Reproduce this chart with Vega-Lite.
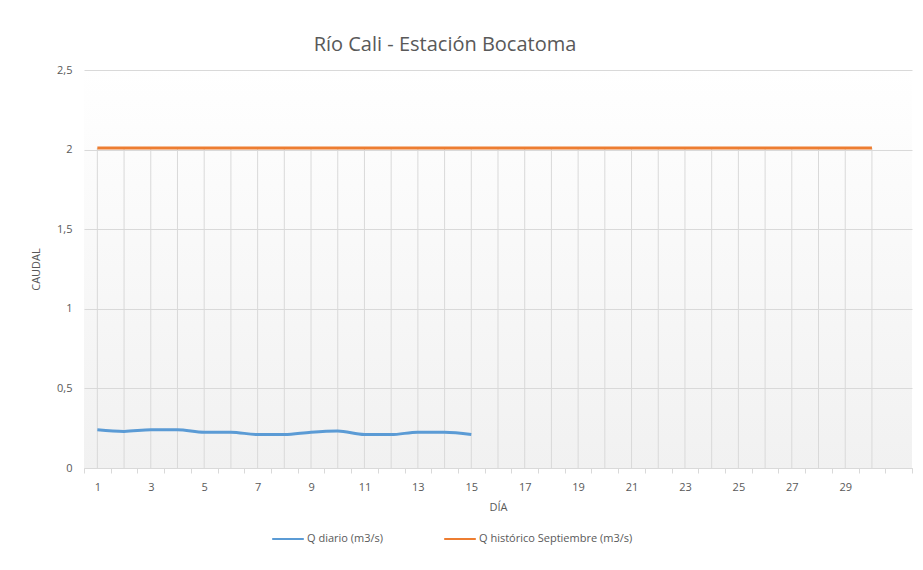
{
  "$schema": "https://vega.github.io/schema/vega-lite/v6.json",
  "width": 828,
  "height": 398,
  "autosize": {"type": "none"},
  "padding": {"left": 84, "top": 70, "right": 11, "bottom": 102},
  "background": "white",
  "title": {"text": "Río Cali - Estación Bocatoma", "fontSize": 20, "font": "Open Sans", "fontWeight": "normal", "color": "#595959", "offset": 9, "dx": -53},
  "config": {
    "font": "Open Sans",
    "view": {"stroke": null, "fill": {"gradient": "linear", "x1": 0, "y1": 0, "x2": 0, "y2": 1, "stops": [{"offset": 0, "color": "#ffffff"}, {"offset": 1, "color": "#f1f1f1"}]}}
  },
  "datasets": {
    "q": [
      {"dia": 1, "serie": "Q diario (m3/s)", "caudal": 0.24},
      {"dia": 2, "serie": "Q diario (m3/s)", "caudal": 0.23},
      {"dia": 3, "serie": "Q diario (m3/s)", "caudal": 0.24},
      {"dia": 4, "serie": "Q diario (m3/s)", "caudal": 0.24},
      {"dia": 5, "serie": "Q diario (m3/s)", "caudal": 0.225},
      {"dia": 6, "serie": "Q diario (m3/s)", "caudal": 0.225},
      {"dia": 7, "serie": "Q diario (m3/s)", "caudal": 0.21},
      {"dia": 8, "serie": "Q diario (m3/s)", "caudal": 0.21},
      {"dia": 9, "serie": "Q diario (m3/s)", "caudal": 0.225},
      {"dia": 10, "serie": "Q diario (m3/s)", "caudal": 0.232},
      {"dia": 11, "serie": "Q diario (m3/s)", "caudal": 0.21},
      {"dia": 12, "serie": "Q diario (m3/s)", "caudal": 0.21},
      {"dia": 13, "serie": "Q diario (m3/s)", "caudal": 0.225},
      {"dia": 14, "serie": "Q diario (m3/s)", "caudal": 0.225},
      {"dia": 15, "serie": "Q diario (m3/s)", "caudal": 0.21},
      {"dia": 1, "serie": "Q histórico Septiembre (m3/s)", "caudal": 2.01},
      {"dia": 2, "serie": "Q histórico Septiembre (m3/s)", "caudal": 2.01},
      {"dia": 3, "serie": "Q histórico Septiembre (m3/s)", "caudal": 2.01},
      {"dia": 4, "serie": "Q histórico Septiembre (m3/s)", "caudal": 2.01},
      {"dia": 5, "serie": "Q histórico Septiembre (m3/s)", "caudal": 2.01},
      {"dia": 6, "serie": "Q histórico Septiembre (m3/s)", "caudal": 2.01},
      {"dia": 7, "serie": "Q histórico Septiembre (m3/s)", "caudal": 2.01},
      {"dia": 8, "serie": "Q histórico Septiembre (m3/s)", "caudal": 2.01},
      {"dia": 9, "serie": "Q histórico Septiembre (m3/s)", "caudal": 2.01},
      {"dia": 10, "serie": "Q histórico Septiembre (m3/s)", "caudal": 2.01},
      {"dia": 11, "serie": "Q histórico Septiembre (m3/s)", "caudal": 2.01},
      {"dia": 12, "serie": "Q histórico Septiembre (m3/s)", "caudal": 2.01},
      {"dia": 13, "serie": "Q histórico Septiembre (m3/s)", "caudal": 2.01},
      {"dia": 14, "serie": "Q histórico Septiembre (m3/s)", "caudal": 2.01},
      {"dia": 15, "serie": "Q histórico Septiembre (m3/s)", "caudal": 2.01},
      {"dia": 16, "serie": "Q histórico Septiembre (m3/s)", "caudal": 2.01},
      {"dia": 17, "serie": "Q histórico Septiembre (m3/s)", "caudal": 2.01},
      {"dia": 18, "serie": "Q histórico Septiembre (m3/s)", "caudal": 2.01},
      {"dia": 19, "serie": "Q histórico Septiembre (m3/s)", "caudal": 2.01},
      {"dia": 20, "serie": "Q histórico Septiembre (m3/s)", "caudal": 2.01},
      {"dia": 21, "serie": "Q histórico Septiembre (m3/s)", "caudal": 2.01},
      {"dia": 22, "serie": "Q histórico Septiembre (m3/s)", "caudal": 2.01},
      {"dia": 23, "serie": "Q histórico Septiembre (m3/s)", "caudal": 2.01},
      {"dia": 24, "serie": "Q histórico Septiembre (m3/s)", "caudal": 2.01},
      {"dia": 25, "serie": "Q histórico Septiembre (m3/s)", "caudal": 2.01},
      {"dia": 26, "serie": "Q histórico Septiembre (m3/s)", "caudal": 2.01},
      {"dia": 27, "serie": "Q histórico Septiembre (m3/s)", "caudal": 2.01},
      {"dia": 28, "serie": "Q histórico Septiembre (m3/s)", "caudal": 2.01},
      {"dia": 29, "serie": "Q histórico Septiembre (m3/s)", "caudal": 2.01},
      {"dia": 30, "serie": "Q histórico Septiembre (m3/s)", "caudal": 2.01}
    ]
  },
  "data": {"name": "q"},
  "layer": [
    {
      "transform": [{"filter": "datum.serie == 'Q histórico Septiembre (m3/s)'"}],
      "mark": {"type": "rule", "color": "#d9d9d9", "strokeWidth": 1},
      "encoding": {
        "x": {
          "field": "dia",
          "type": "ordinal",
          "scale": {"type": "band", "domain": [1,2,3,4,5,6,7,8,9,10,11,12,13,14,15,16,17,18,19,20,21,22,23,24,25,26,27,28,29,30,31], "paddingInner": 0, "paddingOuter": 0},
          "axis": {
            "title": "DÍA",
            "titleFontSize": 11,
            "titleFontWeight": "normal",
            "titleColor": "#595959",
            "titlePadding": 9,
            "labelAngle": 0,
            "labelFontSize": 11,
            "labelColor": "#595959",
            "labelPadding": 8,
            "labelExpr": "datum.value % 2 == 1 && datum.value < 30 ? datum.label : ''",
            "tickBand": "extent",
            "tickSize": 5,
            "tickColor": "#d9d9d9",
            "domainColor": "#d9d9d9",
            "grid": false
          }
        },
        "y": {
          "field": "caudal",
          "type": "quantitative",
          "scale": {"domain": [0, 2.5], "nice": false, "zero": true},
          "axis": {
            "title": "CAUDAL",
            "titleFontSize": 11,
            "titleFontWeight": "normal",
            "titleColor": "#595959",
            "titlePadding": 15,
            "values": [0, 0.5, 1, 1.5, 2, 2.5],
            "format": ".1~f",
            "labelExpr": "replace(datum.label, '.', ',')",
            "labelFontSize": 11,
            "labelColor": "#595959",
            "labelPadding": 12,
            "ticks": false,
            "domain": false,
            "grid": true,
            "gridColor": "#d9d9d9"
          }
        },
        "y2": {"datum": 0}
      }
    },
    {
      "mark": {"type": "line", "strokeWidth": 3, "interpolate": "monotone"},
      "encoding": {
        "x": {"field": "dia", "type": "ordinal"},
        "y": {"field": "caudal", "type": "quantitative"},
        "color": {
          "field": "serie",
          "type": "nominal",
          "scale": {"domain": ["Q diario (m3/s)", "Q histórico Septiembre (m3/s)"], "range": ["#5b9bd5", "#ed7d31"]},
          "legend": {
            "title": null,
            "orient": "none",
            "direction": "horizontal",
            "legendX": 187,
            "legendY": 452,
            "symbolType": "stroke",
            "symbolSize": 1000,
            "symbolStrokeWidth": 2,
            "labelFontSize": 11,
            "labelColor": "#595959",
            "labelOffset": 2,
            "columnPadding": 56
          }
        }
      }
    }
  ]
}
